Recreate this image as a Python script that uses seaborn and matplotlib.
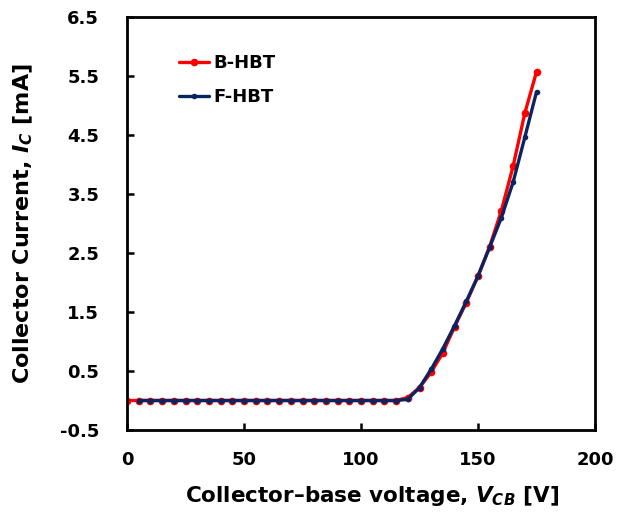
import matplotlib
matplotlib.use("Agg")
import matplotlib.pyplot as plt
import seaborn as sns
import pandas as pd

vcb_b = [0, 5, 10, 15, 20, 25, 30, 35, 40, 45, 50, 55, 60, 65, 70, 75, 80, 85, 90,
         95, 100, 105, 110, 115, 120, 125, 130, 135, 140, 145, 150, 155, 160, 165, 170, 175]
ic_b = [0.0, 0.0, 0.0, 0.0, 0.0, 0.0, 0.0, 0.0, 0.0, 0.0, 0.0, 0.0, 0.0, 0.0, 0.0, 0.0,
        0.0, 0.0, 0.0, 0.0, 0.0, 0.0, 0.0, 0.0, 0.05, 0.22, 0.48, 0.81, 1.25, 1.66, 2.11,
        2.61, 3.22, 3.97, 4.87, 5.57]
vcb_f = [5, 10, 15, 20, 25, 30, 35, 40, 45, 50, 55, 60, 65, 70, 75, 80, 85, 90,
         95, 100, 105, 110, 115, 120, 125, 130, 135, 140, 145, 150, 155, 160, 165, 170, 175]
ic_f = [0.0, 0.0, 0.0, 0.0, 0.0, 0.0, 0.0, 0.0, 0.0, 0.0, 0.0, 0.0, 0.0, 0.0, 0.0,
        0.0, 0.0, 0.0, 0.0, 0.0, 0.0, 0.0, 0.0, 0.02, 0.22, 0.53, 0.88, 1.27, 1.68, 2.11,
        2.60, 3.10, 3.70, 4.46, 5.23]
x_ticks = [0, 50, 100, 150, 200]
y_ticks = [-0.5, 0.5, 1.5, 2.5, 3.5, 4.5, 5.5, 6.5]

df_b = pd.DataFrame({"V": vcb_b, "I": ic_b})
df_f = pd.DataFrame({"V": vcb_f, "I": ic_f})

sns.set_theme(style="ticks")
plt.rcParams["font.family"] = ["DejaVu Sans"]
plt.rcParams["font.weight"] = "bold"
plt.rcParams["mathtext.fontset"] = "custom"
plt.rcParams["mathtext.it"] = "DejaVu Sans:bold:italic"
plt.rcParams["mathtext.rm"] = "DejaVu Sans:bold"
for k in ["text.color", "axes.labelcolor", "xtick.color", "ytick.color", "axes.edgecolor"]:
    plt.rcParams[k] = "black"

fig = plt.figure(figsize=(6.18, 5.17), dpi=100)
ax = fig.add_axes([127 / 618, 1 - 430 / 517, (595 - 127) / 618, (430 - 17) / 517])

sns.lineplot(data=df_b, x="V", y="I", ax=ax, color="#FF0000", linewidth=2.4,
             marker="o", markersize=5.5, markeredgewidth=0, label="B-HBT")
sns.lineplot(data=df_f, x="V", y="I", ax=ax, color="#0A2461", linewidth=2.4,
             marker="o", markersize=4, markeredgewidth=0, label="F-HBT")

ax.set_xlim(0, 200)
ax.set_ylim(-0.5, 6.5)
ax.set_xticks(x_ticks)
ax.set_yticks(y_ticks)
ax.set_xticklabels([str(v) for v in x_ticks], fontsize=13, fontweight="bold")
ax.set_yticklabels([f"{v:.1f}" for v in y_ticks], fontsize=13, fontweight="bold")
ax.tick_params(direction="in", length=5, width=1.8, color="black")
ax.tick_params(axis="x", pad=15)
ax.tick_params(axis="y", pad=20)
for s in ax.spines.values():
    s.set_linewidth(2)
    s.set_color("black")

ax.set_xlabel("Collector\u2013base voltage, $V_{CB}$ [V]", fontsize=15.5, fontweight="bold")
ax.set_ylabel("Collector Current, $I_C$ [mA]", fontsize=16, fontweight="bold")
ax.xaxis.set_label_coords(0.523, -0.13)
ax.yaxis.set_label_coords(-0.196, 0.5)

leg = ax.legend(loc="upper left", bbox_to_anchor=(0.095, 0.928), frameon=False,
                prop={"size": 13, "weight": "bold"}, handlelength=1.7,
                handletextpad=0.2, labelspacing=0.9, borderaxespad=0)

fig.savefig("out.png", dpi=100)
